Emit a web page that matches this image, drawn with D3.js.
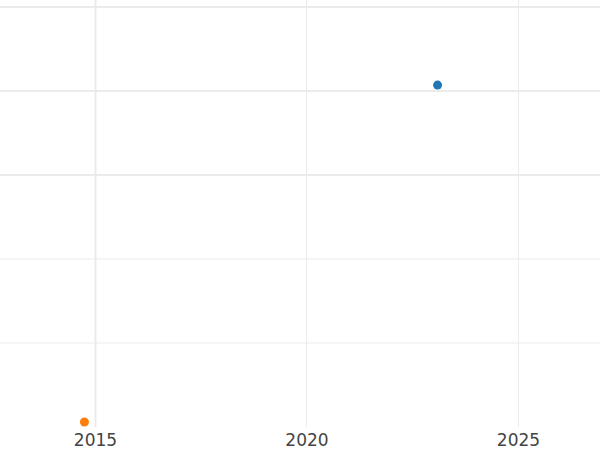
<!DOCTYPE html>
<html>
<head>
    <meta charset="utf-8">
    <title>scatter</title>
    <script src="https://d3js.org/d3.v7.min.js"></script>
    <style>
        body { margin: 0; background: #fff; }
        text { font-family: "DejaVu Sans", sans-serif; }
    </style>
</head>
<body>
<script>
    // data
    var years = [2023.1, 2014.75];
    var values = [4.07, 0.06];
    var colors = ["#1f77b4", "#ff7f0e"];
    var xTicks = [2015, 2020, 2025];
    var yTicks = [1, 2, 3, 4, 5];

    var w = 600, h = 450;
    var plotBottom = 427;

    var svg = d3.select("body").append("svg")
        .attr("width", w)
        .attr("height", h);

    var x = d3.scaleLinear().domain([2012.754, 2026.94]).range([0, w]);
    var y = d3.scaleLinear().domain([0, 5]).range([plotBottom, 7]);

    // horizontal grid
    svg.selectAll("line.hgrid")
        .data(yTicks)
        .enter()
        .append("line")
        .attr("class", "hgrid")
        .attr("x1", 0).attr("x2", w)
        .attr("y1", function(d){ return y(d); })
        .attr("y2", function(d){ return y(d); })
        .attr("stroke", "#ebebeb")
        .attr("stroke-width", function(d){ return d >= 3 ? 2 : 1; });

    // vertical grid
    svg.selectAll("line.vgrid")
        .data(xTicks)
        .enter()
        .append("line")
        .attr("class", "vgrid")
        .attr("x1", function(d){ return Math.round(x(d)) + 0.5; })
        .attr("x2", function(d){ return Math.round(x(d)) + 0.5; })
        .attr("y1", 0).attr("y2", plotBottom)
        .attr("stroke", "#ebebeb")
        .attr("stroke-width", function(d, i){ return i == 0 ? 2 : 1; });

    // x axis labels
    var xAxis = d3.axisBottom(x).tickValues(xTicks).tickFormat(d3.format("d")).tickSize(0).tickPadding(7);
    var gx = svg.append("g")
        .attr("transform", "translate(0," + plotBottom + ")")
        .call(xAxis);
    gx.select(".domain").remove();
    gx.selectAll("text")
        .attr("font-size", 17)
        .attr("font-family", "DejaVu Sans, sans-serif")
        .attr("fill", "#444");

    // points
    svg.selectAll("circle")
        .data(years)
        .enter()
        .append("circle")
        .attr("cx", function(d){ return x(d); })
        .attr("cy", function(d, i){ return y(values[i]); })
        .attr("r", 4.5)
        .attr("fill", function(d, i){ return colors[i]; });
</script>
</body>
</html>
